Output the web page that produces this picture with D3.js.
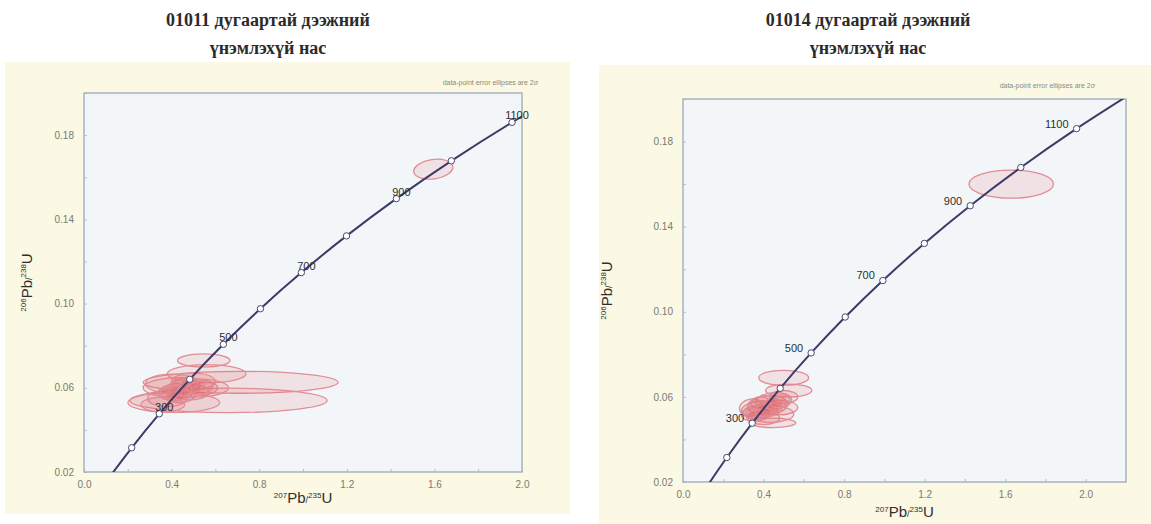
<!DOCTYPE html>
<html>
<head>
<meta charset="utf-8">
<script src="https://cdn.jsdelivr.net/npm/d3@7"></script>
<style>
  body { margin: 0; background: #fff; }
  svg { display: block; }
</style>
</head>
<body>
<div id="chart"></div>
<script>
// titles of the two samples
const titles = [
    ["01011 дугаартай дээжний", "үнэмлэхүй нас"],
    ["01014 дугаартай дээжний", "үнэмлэхүй нас"]
];
const note = "data-point error ellipses are 2σ";

// tick values (minor every 0.2 / 0.02, labels every other)
const xTicks = [0.0, 0.2, 0.4, 0.6, 0.8, 1.0, 1.2, 1.4, 1.6, 1.8, 2.0];
const xTickLabels = ["0.0", "0.4", "0.8", "1.2", "1.6", "2.0"];
const yTicks = [0.02, 0.04, 0.06, 0.08, 0.10, 0.12, 0.14, 0.16, 0.18, 0.20];
const yTickLabels = ["0.02", "0.06", "0.10", "0.14", "0.18"];

// concordia, tabulated every 100 Ma
const concordiaAges = [0, 100, 200, 300, 400, 500, 600, 700, 800, 900, 1000, 1100, 1200];
const concordiaX = [0, 0.1035, 0.2177, 0.3437, 0.4828, 0.6363, 0.8056, 0.9925, 1.1987, 1.4263, 1.6774, 1.9545, 2.2603]; // 207Pb/235U
const concordiaY = [0, 0.01563, 0.03151, 0.04764, 0.06402, 0.08065, 0.09754, 0.11470, 0.13213, 0.14983, 0.16780, 0.18606, 0.20460]; // 206Pb/238U
const labelAges = [300, 500, 700, 900, 1100];

// error ellipses: [207/235 centre, 206/238 centre, half-width, half-height, tilt deg]
const ellipses01011 = [
    [0.715, 0.0626, 0.445, 0.0052, 0],
    [0.660, 0.0540, 0.450, 0.0058, 0],
    [0.547, 0.0730, 0.120, 0.0031, 0],
    [0.560, 0.0667, 0.180, 0.0043, 0],
    [0.410, 0.0530, 0.210, 0.0047, 0],
    [0.440, 0.0600, 0.170, 0.0048, 0],
    [0.420, 0.0580, 0.080, 0.0040, -5],
    [0.460, 0.0610, 0.070, 0.0035, -5],
    [0.380, 0.0550, 0.090, 0.0040, 0],
    [0.500, 0.0630, 0.100, 0.0040, 0],
    [0.450, 0.0560, 0.060, 0.0030, -8],
    [0.400, 0.0620, 0.120, 0.0045, 0],
    [0.480, 0.0580, 0.090, 0.0038, 0],
    [0.360, 0.0520, 0.100, 0.0035, 0],
    [0.520, 0.0600, 0.140, 0.0042, 0],
    [0.430, 0.0570, 0.050, 0.0030, -10],
    [0.440, 0.0590, 0.050, 0.0028, -15],
    [0.470, 0.0600, 0.045, 0.0030, -15],
    [0.420, 0.0560, 0.045, 0.0025, -15],
    [0.500, 0.0610, 0.050, 0.0030, -10],
    [0.450, 0.0570, 0.040, 0.0025, -20],
    [0.480, 0.0620, 0.040, 0.0028, -15],
    [0.400, 0.0580, 0.050, 0.0030, -10],
    [0.530, 0.0600, 0.060, 0.0030, -5],
    [0.460, 0.0585, 0.035, 0.0022, -20],
    [1.595, 0.1638, 0.090, 0.0046, -8]
];
const ellipses01014 = [
    [0.500, 0.0690, 0.124, 0.0035, 0],
    [0.525, 0.0630, 0.115, 0.0030, 0],
    [0.445, 0.0478, 0.115, 0.0022, 0],
    [0.380, 0.0540, 0.090, 0.0040, -5],
    [0.420, 0.0560, 0.100, 0.0045, -5],
    [0.450, 0.0580, 0.090, 0.0040, -5],
    [0.360, 0.0520, 0.070, 0.0035, -5],
    [0.400, 0.0500, 0.080, 0.0030, 0],
    [0.470, 0.0550, 0.100, 0.0035, 0],
    [0.340, 0.0550, 0.060, 0.0040, -8],
    [0.430, 0.0520, 0.120, 0.0040, 0],
    [0.500, 0.0600, 0.070, 0.0030, 0],
    [0.400, 0.0570, 0.060, 0.0035, -10],
    [0.440, 0.0540, 0.050, 0.0030, -10],
    [0.380, 0.0530, 0.050, 0.0030, -15],
    [0.410, 0.0550, 0.050, 0.0030, -15],
    [0.440, 0.0560, 0.050, 0.0030, -15],
    [0.360, 0.0510, 0.045, 0.0025, -15],
    [0.400, 0.0520, 0.040, 0.0025, -15],
    [0.460, 0.0570, 0.050, 0.0030, -10],
    [0.340, 0.0530, 0.040, 0.0028, -15],
    [0.420, 0.0540, 0.060, 0.0030, -10],
    [0.480, 0.0580, 0.050, 0.0030, -10],
    [0.380, 0.0570, 0.050, 0.0030, -10],
    [1.630, 0.1600, 0.210, 0.0066, 0]
];

const panels = [
    { title: titles[0], ellipses: ellipses01011, xMax: 2.0,
      bg: { x: 5, y: 62, w: 565, h: 452 }, frame: { x0: 84, x1: 522, y0: 93, y1: 472 },
      titleX: 268, noteX: 538, noteY: 85, xTitleY: 503, yTitleX: 32,
      label: { anchor: "middle", dx: 5, dy: -3 } },
    { title: titles[1], ellipses: ellipses01014, xMax: 2.2,
      bg: { x: 599, y: 65, w: 552, h: 459 }, frame: { x0: 683, x1: 1126, y0: 99, y1: 482 },
      titleX: 868, noteX: 1095, noteY: 88, xTitleY: 517, yTitleX: 612,
      label: { anchor: "end", dx: -8, dy: -1 } }
];

const svg = d3.select("#chart").append("svg")
    .attr("width", 1151)
    .attr("height", 524);

const concordia = concordiaAges.map((a, i) => ({ age: a, x: concordiaX[i], y: concordiaY[i] }));

panels.forEach((p, index) => {
    const f = p.frame;
    const x = d3.scaleLinear().domain([0, p.xMax]).range([f.x0, f.x1]);
    const y = d3.scaleLinear().domain([0.02, 0.20]).range([f.y1, f.y0]);

    // yellow page background
    svg.append("rect")
        .attr("x", p.bg.x).attr("y", p.bg.y)
        .attr("width", p.bg.w).attr("height", p.bg.h)
        .attr("fill", "#fbf8e4");

    // titles
    p.title.forEach((t, i) => {
        svg.append("text")
            .attr("x", p.titleX)
            .attr("y", 26 + i * 28)
            .attr("text-anchor", "middle")
            .style("font-family", "'Liberation Serif', 'Times New Roman', serif")
            .style("font-weight", "bold")
            .style("font-size", "18px")
            .attr("fill", "#2b2b2b")
            .text(t);
    });

    svg.append("text")
        .attr("x", p.noteX).attr("y", p.noteY)
        .attr("text-anchor", "end")
        .style("font-family", "'Liberation Sans', Arial, sans-serif")
        .style("font-size", "7px")
        .attr("fill", "#8a8a80")
        .text(note);

    // plot area
    svg.append("rect")
        .attr("x", f.x0).attr("y", f.y0)
        .attr("width", f.x1 - f.x0).attr("height", f.y1 - f.y0)
        .attr("fill", "#f3f6f9");

    const clipId = "clip" + index;
    svg.append("clipPath").attr("id", clipId)
        .append("rect")
        .attr("x", f.x0).attr("y", f.y0)
        .attr("width", f.x1 - f.x0).attr("height", f.y1 - f.y0);

    // axes
    const xAxis = svg.append("g")
        .attr("transform", `translate(0,${f.y1})`)
        .call(d3.axisBottom(x).tickValues(xTicks).tickSize(-3).tickPadding(9)
            .tickFormat(d => { const s = d3.format(".1f")(d); return xTickLabels.includes(s) ? s : ""; }));
    const yAxis = svg.append("g")
        .attr("transform", `translate(${f.x0},0)`)
        .call(d3.axisLeft(y).tickValues(yTicks).tickSize(-3).tickPadding(10)
            .tickFormat(d => { const s = d3.format(".2f")(d); return yTickLabels.includes(s) ? s : ""; }));
    [xAxis, yAxis].forEach(g => {
        g.select(".domain").remove();
        g.selectAll("line").attr("stroke", "#b8bec8");
        g.selectAll("text")
            .style("font-family", "'Liberation Sans', Arial, sans-serif")
            .style("font-size", "10px")
            .attr("fill", "#7a7a72");
    });

    // frame
    svg.append("rect")
        .attr("x", f.x0).attr("y", f.y0)
        .attr("width", f.x1 - f.x0).attr("height", f.y1 - f.y0)
        .attr("fill", "none")
        .attr("stroke", "#a9b2c0")
        .attr("stroke-width", 1.5);

    const plot = svg.append("g").attr("clip-path", `url(#${clipId})`);

    // error ellipses
    plot.selectAll(".ell")
        .data(p.ellipses)
        .enter().append("ellipse")
        .attr("class", "ell")
        .attr("cx", d => x(d[0]))
        .attr("cy", d => y(d[1]))
        .attr("rx", d => x(d[0] + d[2]) - x(d[0]))
        .attr("ry", d => y(d[1]) - y(d[1] + d[3]))
        .attr("transform", d => `rotate(${d[4]},${x(d[0])},${y(d[1])})`)
        .attr("fill", "#e05050")
        .attr("fill-opacity", 0.12)
        .attr("stroke", "#e28c95")
        .attr("stroke-width", 1.3);

    // concordia
    const line = d3.line()
        .x(d => x(d.x))
        .y(d => y(d.y))
        .curve(d3.curveCatmullRom);
    plot.append("path")
        .datum(concordia)
        .attr("d", line)
        .attr("fill", "none")
        .attr("stroke", "#3c3a68")
        .attr("stroke-width", 2);

    plot.selectAll(".age")
        .data(concordia.filter(d => d.age > 0))
        .enter().append("circle")
        .attr("class", "age")
        .attr("cx", d => x(d.x))
        .attr("cy", d => y(d.y))
        .attr("r", 3.2)
        .attr("fill", "#fff")
        .attr("stroke", "#4a4870")
        .attr("stroke-width", 1);

    svg.selectAll(".agelabel" + index)
        .data(concordia.filter(d => labelAges.includes(d.age)))
        .enter().append("text")
        .attr("class", "agelabel" + index)
        .attr("x", d => x(d.x) + p.label.dx)
        .attr("y", d => y(d.y) + p.label.dy)
        .attr("text-anchor", p.label.anchor)
        .style("font-family", "'Liberation Sans', Arial, sans-serif")
        .style("font-size", "11px")
        .attr("fill", "#2e2e2e")
        .text(d => d.age);

    // axis titles
    const cx = (f.x0 + f.x1) / 2;
    const xt = svg.append("text")
        .attr("x", cx).attr("y", p.xTitleY)
        .attr("text-anchor", "middle")
        .style("font-family", "'Liberation Sans', Arial, sans-serif")
        .attr("fill", "#2e2e2e");
    xt.append("tspan").attr("dy", -5).style("font-size", "8px").text("207");
    xt.append("tspan").attr("dy", 5).style("font-size", "15px").text("Pb");
    xt.append("tspan").style("font-size", "9px").text("/");
    xt.append("tspan").attr("dy", -5).style("font-size", "8px").text("235");
    xt.append("tspan").attr("dy", 5).style("font-size", "15px").text("U");

    const cy = (f.y0 + f.y1) / 2;
    const yt = svg.append("text")
        .attr("transform", `translate(${p.yTitleX},${cy}) rotate(-90)`)
        .attr("text-anchor", "middle")
        .style("font-family", "'Liberation Sans', Arial, sans-serif")
        .attr("fill", "#2e2e2e");
    yt.append("tspan").attr("dy", -6).style("font-size", "8px").text("206");
    yt.append("tspan").attr("dy", 6).style("font-size", "15px").text("Pb");
    yt.append("tspan").style("font-size", "9px").text("/");
    yt.append("tspan").attr("dy", -6).style("font-size", "8px").text("238");
    yt.append("tspan").attr("dy", 6).style("font-size", "15px").text("U");
});
</script>
</body>
</html>
